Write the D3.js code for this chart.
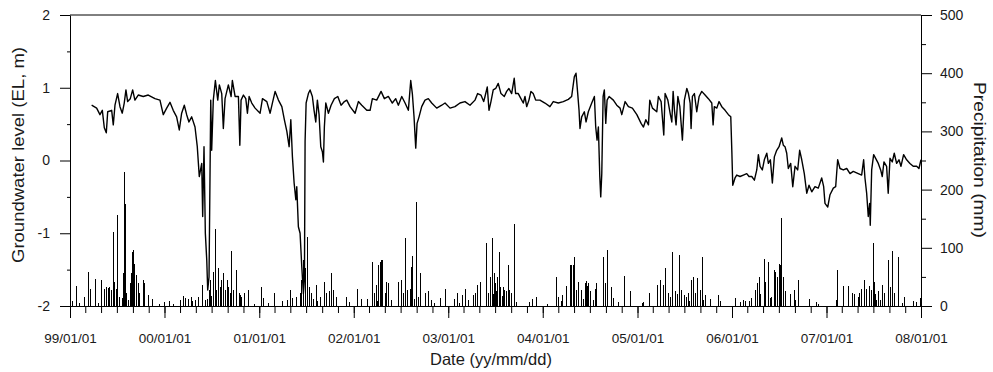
<!DOCTYPE html>
<html>
<head>
<meta charset="utf-8">
<script src="https://cdn.jsdelivr.net/npm/d3@7"></script>
<style>
  body { margin: 0; background: #fff; }
  svg text { font-family: "Liberation Sans", Arial, sans-serif; fill: #1a1a1a; }
</style>
</head>
<body>
<svg id="chart" width="993" height="372"></svg>
<script>
// x axis (decimal years) and its labels
const yearTicks = [1999, 2000, 2001, 2002, 2003, 2004, 2005, 2006, 2007, 2008];
const yearLabels = ["99/01/01", "00/01/01", "01/01/01", "02/01/01", "03/01/01",
  "04/01/01", "05/01/01", "06/01/01", "07/01/01", "08/01/01"];
const levelTicks = [-2, -1, 0, 1, 2];
const levelMinor = [-1.5, -0.5, 0.5, 1.5];
const rainTicks = [0, 100, 200, 300, 400, 500];
const rainMinor = [50, 150, 250, 350, 450];

// groundwater level [decimal year, EL m]
const groundwater = [
  [1999.229,0.76],[1999.282,0.72],[1999.317,0.63],[1999.342,0.69],[1999.363,0.45],[1999.384,0.38],
  [1999.399,0.67],[1999.441,0.69],[1999.458,0.49],[1999.476,0.76],[1999.504,0.92],[1999.529,0.74],
  [1999.553,0.65],[1999.574,0.79],[1999.592,0.97],[1999.610,0.81],[1999.638,0.85],[1999.663,0.97],
  [1999.687,0.83],[1999.722,0.90],[1999.775,0.88],[1999.828,0.90],[1999.899,0.85],[1999.952,0.83],
  [1999.987,0.63],[2000.023,0.72],[2000.058,0.80],[2000.092,0.69],[2000.128,0.60],[2000.156,0.42],
  [2000.181,0.65],[2000.209,0.76],[2000.234,0.63],[2000.258,0.53],[2000.287,0.60],[2000.322,0.46],
  [2000.346,0.19],[2000.367,-0.22],[2000.393,-0.04],[2000.403,-0.77],[2000.417,0.19],[2000.431,-1.0],
  [2000.446,-1.37],[2000.456,-1.78],[2000.470,-1.6],[2000.488,0.83],[2000.498,0.14],[2000.515,0.83],
  [2000.537,1.1],[2000.562,0.83],[2000.579,1.04],[2000.604,0.92],[2000.621,0.44],[2000.639,0.85],
  [2000.674,1.04],[2000.703,0.88],[2000.716,1.1],[2000.745,0.88],[2000.780,0.88],[2000.795,0.21],
  [2000.808,0.83],[2000.833,0.90],[2000.858,0.85],[2000.875,0.65],[2000.893,0.88],[2000.921,0.79],
  [2000.956,0.72],[2001.009,0.65],[2001.034,0.85],[2001.080,0.81],[2001.115,0.65],[2001.139,0.79],
  [2001.168,0.95],[2001.203,0.83],[2001.239,0.74],[2001.266,0.56],[2001.292,0.40],[2001.316,0.19],
  [2001.334,0.56],[2001.351,0.05],[2001.369,-0.31],[2001.387,-0.54],[2001.397,-0.36],[2001.414,-0.91],
  [2001.432,-1.0],[2001.450,-1.46],[2001.467,-1.83],[2001.478,-1.64],[2001.485,0.26],[2001.496,0.79],
  [2001.520,0.92],[2001.538,0.97],[2001.562,0.88],[2001.580,0.69],[2001.598,0.53],[2001.615,0.83],
  [2001.633,0.63],[2001.651,0.19],[2001.668,0.12],[2001.679,-0.02],[2001.689,0.46],[2001.704,0.79],
  [2001.732,0.65],[2001.760,0.76],[2001.795,0.85],[2001.831,0.88],[2001.866,0.76],[2001.901,0.81],
  [2001.926,0.83],[2001.961,0.74],[2002.014,0.65],[2002.049,0.81],[2002.085,0.76],[2002.138,0.69],
  [2002.173,0.69],[2002.197,0.85],[2002.243,0.83],[2002.289,0.95],[2002.324,0.85],[2002.366,0.88],
  [2002.408,0.79],[2002.444,0.85],[2002.472,0.76],[2002.508,0.88],[2002.543,0.79],[2002.578,0.69],
  [2002.603,1.1],[2002.620,0.92],[2002.638,0.60],[2002.656,0.17],[2002.670,0.51],[2002.691,0.60],
  [2002.719,0.74],[2002.754,0.83],[2002.789,0.85],[2002.825,0.79],[2002.878,0.72],[2002.931,0.76],
  [2002.966,0.79],[2003.019,0.72],[2003.071,0.74],[2003.124,0.79],[2003.177,0.81],[2003.230,0.76],
  [2003.283,0.83],[2003.311,0.92],[2003.346,0.90],[2003.375,0.81],[2003.389,0.88],[2003.413,1.01],
  [2003.431,0.69],[2003.452,0.81],[2003.476,0.97],[2003.502,0.99],[2003.529,1.06],[2003.558,0.92],
  [2003.593,0.88],[2003.618,0.95],[2003.642,0.99],[2003.671,0.92],[2003.698,1.13],[2003.713,0.92],
  [2003.741,0.92],[2003.769,0.85],[2003.794,0.79],[2003.812,0.88],[2003.830,0.74],[2003.854,0.83],
  [2003.875,0.95],[2003.899,0.92],[2003.925,0.83],[2003.970,0.83],[2004.023,0.79],[2004.076,0.74],
  [2004.111,0.81],[2004.164,0.79],[2004.217,0.81],[2004.270,0.84],[2004.305,0.88],[2004.333,1.15],
  [2004.351,1.2],[2004.369,0.92],[2004.383,0.69],[2004.393,0.44],[2004.411,0.60],[2004.439,0.67],
  [2004.457,0.53],[2004.481,0.67],[2004.517,0.79],[2004.545,0.88],[2004.559,0.46],[2004.573,0.28],
  [2004.587,0.46],[2004.602,-0.22],[2004.612,-0.50],[2004.623,-0.18],[2004.637,0.88],[2004.650,0.97],
  [2004.665,0.51],[2004.679,0.83],[2004.700,0.88],[2004.745,0.83],[2004.781,0.76],[2004.816,0.72],
  [2004.834,0.63],[2004.869,0.81],[2004.904,0.74],[2004.946,0.72],[2004.993,0.63],[2005.038,0.51],
  [2005.063,0.46],[2005.088,0.56],[2005.116,0.49],[2005.130,0.83],[2005.158,0.72],[2005.204,0.67],
  [2005.221,0.88],[2005.250,0.81],[2005.278,0.35],[2005.292,0.92],[2005.321,0.83],[2005.345,0.65],
  [2005.363,0.53],[2005.377,0.95],[2005.391,0.69],[2005.408,0.49],[2005.427,0.88],[2005.448,0.74],
  [2005.475,0.28],[2005.496,0.83],[2005.522,0.99],[2005.539,0.92],[2005.557,0.79],[2005.567,0.44],
  [2005.581,0.88],[2005.602,0.92],[2005.627,0.67],[2005.652,0.88],[2005.680,0.95],[2005.715,0.90],
  [2005.750,0.85],[2005.786,0.79],[2005.800,0.49],[2005.813,0.74],[2005.839,0.72],[2005.863,0.81],
  [2005.892,0.74],[2005.927,0.69],[2005.962,0.63],[2005.987,0.60],[2005.998,0.14],[2006.008,-0.34],
  [2006.032,-0.24],[2006.050,-0.20],[2006.085,-0.22],[2006.120,-0.20],[2006.156,-0.18],[2006.180,-0.22],
  [2006.209,-0.22],[2006.237,-0.27],[2006.262,-0.13],[2006.279,0.08],[2006.297,-0.08],[2006.321,-0.13],
  [2006.342,0.01],[2006.368,0.10],[2006.385,-0.04],[2006.406,0.01],[2006.427,-0.31],[2006.448,0.05],
  [2006.473,0.14],[2006.498,0.19],[2006.526,0.31],[2006.543,0.21],[2006.561,0.19],[2006.579,0.10],
  [2006.596,-0.11],[2006.621,-0.04],[2006.643,-0.36],[2006.667,-0.08],[2006.695,-0.13],[2006.716,0.14],
  [2006.738,0.01],[2006.765,-0.18],[2006.791,-0.45],[2006.815,-0.34],[2006.844,-0.43],[2006.878,-0.36],
  [2006.913,-0.38],[2006.949,-0.24],[2006.970,-0.36],[2006.984,-0.59],[2007.013,-0.64],[2007.037,-0.47],
  [2007.072,-0.38],[2007.097,-0.36],[2007.118,0.01],[2007.143,-0.11],[2007.178,-0.13],[2007.214,-0.11],
  [2007.249,-0.18],[2007.283,-0.15],[2007.336,-0.18],[2007.372,-0.20],[2007.393,0.01],[2007.407,-0.24],
  [2007.425,-0.45],[2007.442,-0.77],[2007.457,-0.59],[2007.463,-0.89],[2007.478,-0.13],[2007.499,0.08],
  [2007.520,0.03],[2007.548,-0.04],[2007.573,-0.13],[2007.590,-0.22],[2007.608,-0.02],[2007.636,-0.08],
  [2007.653,-0.45],[2007.672,0.03],[2007.696,-0.02],[2007.717,0.10],[2007.742,-0.04],[2007.767,0.01],
  [2007.788,-0.08],[2007.816,0.08],[2007.848,0.01],[2007.883,-0.04],[2007.918,-0.08],[2007.954,-0.08],
  [2007.978,-0.11],[2008.000,0.01]
];

// daily precipitation [decimal year, mm]
const precipitation = [
  [1999.030,8],[1999.071,34],[1999.100,5],[1999.151,15],[1999.201,59],[1999.212,30],[1999.222,22],
  [1999.275,46],[1999.300,6],[1999.335,45],[1999.370,30],[1999.388,32],[1999.405,31],[1999.423,33],
  [1999.441,27],[1999.465,128],[1999.476,42],[1999.494,30],[1999.504,156],[1999.529,16],[1999.553,13],
  [1999.564,56],[1999.574,231],[1999.582,226],[1999.589,176],[1999.600,22],[1999.620,10],[1999.635,39],
  [1999.652,56],[1999.663,93],[1999.677,96],[1999.687,73],[1999.705,53],[1999.722,39],[1999.740,22],
  [1999.775,45],[1999.786,39],[1999.828,19],[1999.870,12],[1999.950,3],[2000.005,7],[2000.058,9],
  [2000.100,4],[2000.174,10],[2000.198,17],[2000.224,13],[2000.250,6],[2000.258,12],[2000.287,15],
  [2000.300,8],[2000.322,10],[2000.357,15],[2000.399,36],[2000.428,10],[2000.450,12],[2000.470,27],
  [2000.488,45],[2000.500,18],[2000.515,59],[2000.533,133],[2000.551,27],[2000.568,65],[2000.586,33],
  [2000.604,45],[2000.621,56],[2000.639,27],[2000.663,45],[2000.674,33],[2000.692,22],[2000.710,95],
  [2000.727,27],[2000.763,62],[2000.787,22],[2000.798,19],[2000.816,16],[2000.843,22],[2000.886,27],
  [2000.950,4],[2001.020,33],[2001.044,13],[2001.100,6],[2001.160,23],[2001.250,8],[2001.300,10],
  [2001.327,27],[2001.351,13],[2001.397,15],[2001.432,22],[2001.450,45],[2001.467,79],[2001.485,65],
  [2001.514,118],[2001.527,33],[2001.556,22],[2001.570,12],[2001.601,36],[2001.620,9],[2001.644,16],
  [2001.689,42],[2001.715,22],[2001.742,25],[2001.767,56],[2001.784,27],[2001.820,16],[2001.926,15],
  [2001.950,7],[2002.042,30],[2002.077,12],[2002.150,5],[2002.148,12],[2002.197,76],[2002.218,22],
  [2002.243,36],[2002.250,8],[2002.260,70],[2002.278,76],[2002.296,79],[2002.307,79],[2002.331,22],
  [2002.349,42],[2002.366,39],[2002.402,10],[2002.472,42],[2002.500,45],[2002.525,22],[2002.550,116],
  [2002.571,27],[2002.596,30],[2002.606,67],[2002.620,86],[2002.640,12],[2002.666,179],[2002.680,15],
  [2002.709,56],[2002.761,22],[2002.796,25],[2002.825,10],[2002.850,6],[2002.923,13],[2002.966,30],
  [2003.071,12],[2003.100,22],[2003.120,5],[2003.149,19],[2003.185,30],[2003.212,10],[2003.265,19],
  [2003.290,22],[2003.311,36],[2003.346,42],[2003.407,109],[2003.424,22],[2003.452,50],[2003.466,116],
  [2003.480,20],[2003.487,56],[2003.502,39],[2003.515,25],[2003.523,50],[2003.540,93],[2003.550,30],
  [2003.558,33],[2003.570,18],[2003.582,33],[2003.600,27],[2003.618,25],[2003.635,70],[2003.653,27],
  [2003.671,22],[2003.698,141],[2003.724,7],[2003.865,7],[2003.889,12],[2003.935,15],[2004.050,4],
  [2004.147,50],[2004.171,16],[2004.200,8],[2004.206,19],[2004.253,34],[2004.288,71],[2004.305,71],
  [2004.322,71],[2004.340,85],[2004.358,27],[2004.375,42],[2004.404,27],[2004.428,12],[2004.450,40],
  [2004.464,43],[2004.470,35],[2004.481,39],[2004.499,25],[2004.534,10],[2004.555,30],[2004.570,40],
  [2004.640,85],[2004.658,39],[2004.682,96],[2004.721,33],[2004.745,13],[2004.798,7],[2004.859,52],
  [2004.922,25],[2005.050,5],[2005.063,7],[2005.123,22],[2005.215,36],[2005.239,45],[2005.274,36],
  [2005.300,65],[2005.327,22],[2005.350,15],[2005.352,10],[2005.374,93],[2005.398,25],[2005.420,20],
  [2005.443,87],[2005.469,27],[2005.496,19],[2005.522,16],[2005.539,22],[2005.550,8],[2005.574,45],
  [2005.591,50],[2005.609,22],[2005.638,48],[2005.662,27],[2005.687,85],[2005.700,10],[2005.715,19],
  [2005.768,12],[2005.856,19],[2005.880,8],[2006.040,13],[2006.085,7],[2006.120,10],[2006.146,9],
  [2006.180,8],[2006.209,13],[2006.251,27],[2006.268,39],[2006.286,50],[2006.300,20],[2006.342,80],
  [2006.357,42],[2006.385,76],[2006.403,13],[2006.420,15],[2006.448,62],[2006.463,59],[2006.480,50],
  [2006.498,73],[2006.508,70],[2006.526,152],[2006.543,50],[2006.550,30],[2006.568,19],[2006.570,25],
  [2006.620,20],[2006.659,27],[2006.674,10],[2006.702,45],[2006.815,12],[2006.896,7],[2006.920,4],
  [2007.108,10],[2007.118,61],[2007.178,34],[2007.231,34],[2007.273,22],[2007.300,20],[2007.336,16],
  [2007.354,22],[2007.372,30],[2007.400,45],[2007.420,30],[2007.450,35],[2007.460,16],[2007.478,27],
  [2007.499,108],[2007.513,42],[2007.520,20],[2007.531,10],[2007.548,13],[2007.550,25],[2007.576,10],
  [2007.594,36],[2007.611,22],[2007.661,79],[2007.672,33],[2007.700,95],[2007.724,22],[2007.759,85],
  [2007.800,5],[2007.823,15],[2007.918,9],[2007.954,7],[2007.996,13]
];

const svg = d3.select('#chart');
const plotLeft = 70, plotRight = 921, plotTop = 15, plotBottom = 306;
const font = '"Liberation Sans", Arial, sans-serif';

// decimal year -> Date
function toDate(t) {
  const y = Math.floor(t);
  const a = Date.UTC(y, 0, 1), b = Date.UTC(y + 1, 0, 1);
  return new Date(a + (t - y) * (b - a));
}

const x = d3.scaleUtc().domain([toDate(1999), toDate(2008)]).range([plotLeft, plotRight]);
const yLevel = d3.scaleLinear().domain([-2, 2]).range([plotBottom, plotTop]);
const yRain = d3.scaleLinear().domain([0, 500]).range([plotBottom, plotTop]);

svg.append('rect').attr('width', 993).attr('height', 372).attr('fill', '#fff');

// precipitation bars
svg.append('g')
  .attr('shape-rendering', 'crispEdges')
  .selectAll('line')
  .data(precipitation)
  .join('line')
  .attr('x1', d => x(toDate(d[0])))
  .attr('x2', d => x(toDate(d[0])))
  .attr('y1', yRain(0))
  .attr('y2', d => yRain(d[1]))
  .attr('stroke', '#000')
  .attr('stroke-width', 1);

// groundwater line
const line = d3.line()
  .x(d => x(toDate(d[0])))
  .y(d => yLevel(d[1]));

svg.append('path')
  .datum(groundwater)
  .attr('d', line)
  .attr('fill', 'none')
  .attr('stroke', '#000')
  .attr('stroke-width', 1.4)
  .attr('stroke-linejoin', 'round');

// top frame line
svg.append('line')
  .attr('x1', plotLeft).attr('x2', plotRight)
  .attr('y1', plotTop).attr('y2', plotTop)
  .attr('stroke', '#000');

function styleAxis(g) {
  g.attr('font-family', font).attr('font-size', 14);
  g.selectAll('text').attr('fill', '#1a1a1a');
}

// bottom axis
svg.append('g')
  .attr('transform', `translate(0,${plotBottom})`)
  .call(d3.axisBottom(x)
    .tickValues(d3.utcMonth.every(2).range(toDate(1999), toDate(2008)))
    .tickSize(7).tickFormat(''))
  .call(g => g.select('.domain').remove());

svg.append('g')
  .attr('transform', `translate(0,${plotBottom})`)
  .call(d3.axisBottom(x)
    .tickValues(yearTicks.map(toDate))
    .tickFormat((d, i) => yearLabels[i])
    .tickSize(12).tickSizeOuter(0).tickPadding(15))
  .call(styleAxis)
  .attr('font-size', 13.5);

// left axis
svg.append('g')
  .attr('transform', `translate(${plotLeft},0)`)
  .call(d3.axisLeft(yLevel).tickValues(levelMinor).tickSize(3).tickFormat(''))
  .call(g => g.select('.domain').remove());

svg.append('g')
  .attr('transform', `translate(${plotLeft},0)`)
  .call(d3.axisLeft(yLevel).tickValues(levelTicks).tickFormat(d => String(d))
    .tickSize(10).tickSizeOuter(0).tickPadding(10))
  .call(styleAxis);

// right axis
svg.append('g')
  .attr('transform', `translate(${plotRight},0)`)
  .call(d3.axisRight(yRain).tickValues(rainMinor).tickSize(5).tickFormat(''))
  .call(g => g.select('.domain').remove());

svg.append('g')
  .attr('transform', `translate(${plotRight},0)`)
  .call(d3.axisRight(yRain).tickValues(rainTicks).tickFormat(d => String(d))
    .tickSize(11).tickSizeOuter(0).tickPadding(8))
  .call(styleAxis);

// axis titles
svg.append('text')
  .attr('x', 491).attr('y', 365)
  .attr('text-anchor', 'middle')
  .attr('font-size', 16.5)
  .text('Date (yy/mm/dd)');

svg.append('text')
  .attr('transform', 'translate(18.5,155) rotate(-90)')
  .attr('text-anchor', 'middle')
  .attr('dy', '0.35em')
  .attr('font-size', 16)
  .attr('textLength', 216)
  .attr('lengthAdjust', 'spacingAndGlyphs')
  .text('Groundwater level (EL, m)');

svg.append('text')
  .attr('transform', 'translate(980,160) rotate(90)')
  .attr('text-anchor', 'middle')
  .attr('dy', '0.35em')
  .attr('font-size', 16)
  .attr('textLength', 156)
  .attr('lengthAdjust', 'spacingAndGlyphs')
  .text('Precipitation (mm)');
</script>
</body>
</html>
